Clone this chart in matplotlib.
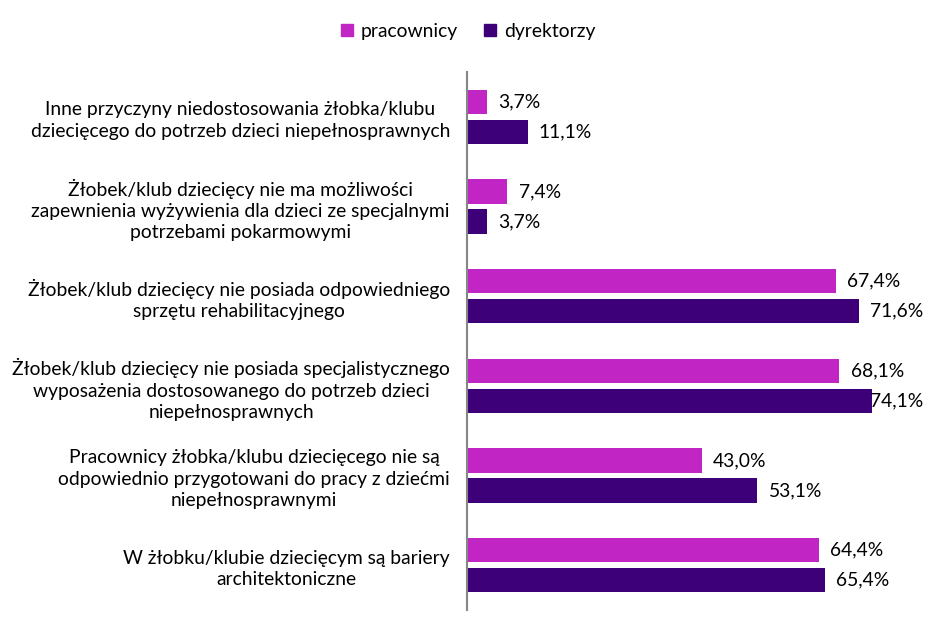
import matplotlib
matplotlib.use("Agg")
import matplotlib.pyplot as plt
from matplotlib.patches import Patch
import numpy as np

categories = [
    "Inne przyczyny niedostosowania żłobka/klubu\ndziecięcego do potrzeb dzieci niepełnosprawnych",
    "Żłobek/klub dziecięcy nie ma możliwości\nzapewnienia wyżywienia dla dzieci ze specjalnymi\npotrzebami pokarmowymi",
    "Żłobek/klub dziecięcy nie posiada odpowiedniego\nsprzętu rehabilitacyjnego",
    "Żłobek/klub dziecięcy nie posiada specjalistycznego\nwyposażenia dostosowanego do potrzeb dzieci\nniepełnosprawnych",
    "Pracownicy żłobka/klubu dziecięcego nie są\nodpowiednio przygotowani do pracy z dziećmi\nniepełnosprawnymi",
    "W żłobku/klubie dziecięcym są bariery\narchitektoniczne",
]
pracownicy = [3.7, 7.4, 67.4, 68.1, 43.0, 64.4]
dyrektorzy = [11.1, 3.7, 71.6, 74.1, 53.1, 65.4]
series_names = ["pracownicy", "dyrektorzy"]
colors = ["#C125C3", "#3D0078"]

plt.rcParams['font.family'] = ['Lato', 'DejaVu Sans']
fig = plt.figure(figsize=(9.28, 6.33), dpi=100)
ax = fig.add_axes([467/928, 1-610/633, (921-467)/928, (610-72)/633])

y = np.arange(len(categories))
h = 0.27
off = 0.167
ax.barh(y - off, pracownicy, height=h, color=colors[0])
ax.barh(y + off, dyrektorzy, height=h, color=colors[1])
xmax = 83
ax.set_xlim(0, xmax)
ax.set_ylim(len(categories) - 0.5, -0.5)

fs = 13.9
fig.canvas.draw()
renderer = fig.canvas.get_renderer()
for vals, dy in ((pracownicy, -off), (dyrektorzy, off)):
    for i, v in enumerate(vals):
        lab = f"{v:.1f}%".replace(".", ",")
        t = ax.annotate(lab, (v, i + dy), xytext=(8, 0), textcoords="offset points",
                        ha="left", va="center", fontsize=fs, color="#000000")
        bb = t.get_window_extent(renderer)
        axbb = ax.get_window_extent(renderer)
        if bb.x1 > axbb.x1 + 2:
            t.xyann = (8 - (bb.x1 - axbb.x1 - 2) * 72 / fig.dpi, 0)

ax.set_yticks(y)
ax.set_yticklabels(categories, ha="right", multialignment="center", fontsize=fs, linespacing=1.3)
ax.tick_params(axis="y", length=0, pad=17 * 0.72)
ax.set_xticks([])
for s in ["top", "right", "bottom"]:
    ax.spines[s].set_visible(False)
ax.spines["left"].set_color("#868686")
ax.spines["left"].set_linewidth(1.5)

handles = [Patch(color=c) for c in colors]
fig.legend(handles, series_names, loc="center", bbox_to_anchor=(468/928, 1-31/633),
           ncol=2, frameon=False, fontsize=fs, handlelength=0.6, handleheight=0.6,
           handletextpad=0.4, columnspacing=1.4)

fig.savefig("out.png", dpi=100)
